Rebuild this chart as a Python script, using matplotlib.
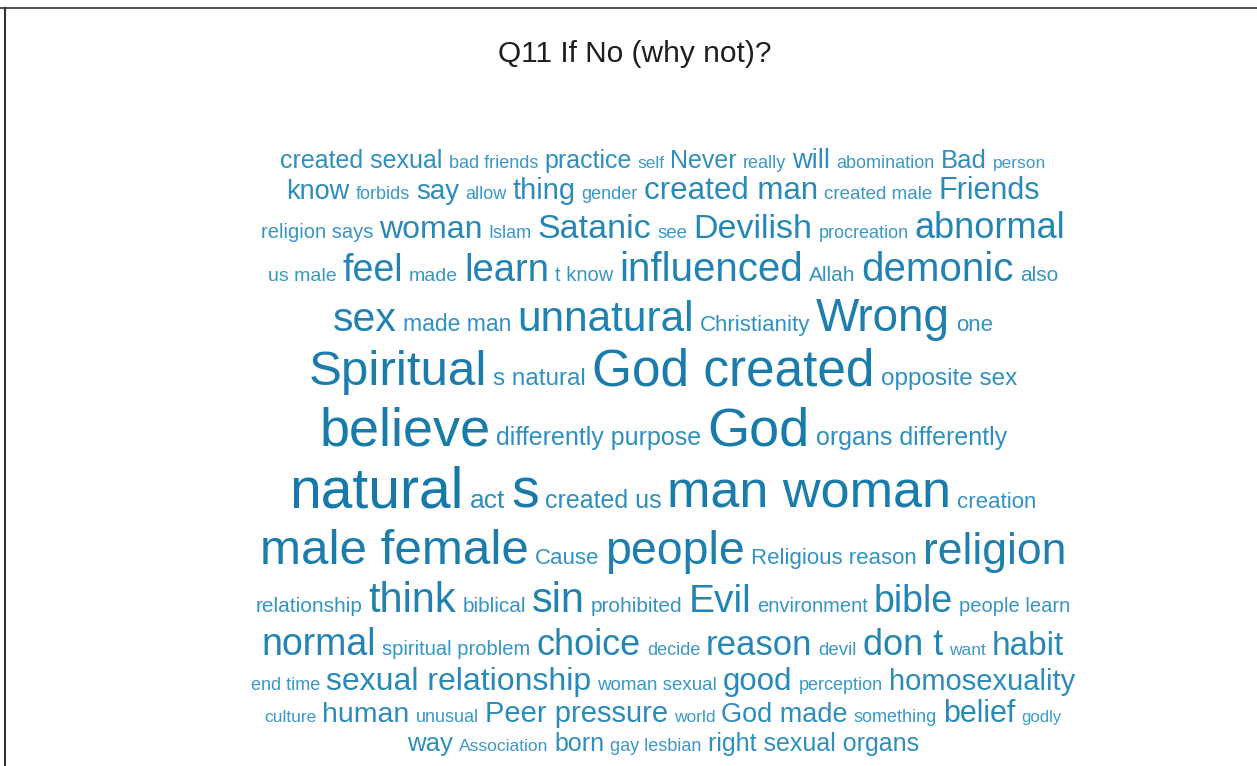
import matplotlib
matplotlib.use("Agg")
import matplotlib.pyplot as plt
import matplotlib.colors as mcolors
from matplotlib.lines import Line2D
import numpy as np

title = "Q11 If No (why not)?"

words = [
    # row 0
    "created sexual", "bad friends", "practice", "self", "Never", "really", "will", "abomination", "Bad", "person",
    # row 1
    "know", "forbids", "say", "allow", "thing", "gender", "created man", "created male", "Friends",
    # row 2
    "religion says", "woman", "Islam", "Satanic", "see", "Devilish", "procreation", "abnormal",
    # row 3
    "us male", "feel", "made", "learn", "t know", "influenced", "Allah", "demonic", "also",
    # row 4
    "sex", "made man", "unnatural", "Christianity", "Wrong", "one",
    # row 5
    "Spiritual", "s natural", "God created", "opposite sex",
    # row 6
    "believe", "differently purpose", "God", "organs differently",
    # row 7
    "natural", "act", "s", "created us", "man woman", "creation",
    # row 8
    "male female", "Cause", "people", "Religious reason", "religion",
    # row 9
    "relationship", "think", "biblical", "sin", "prohibited", "Evil", "environment", "bible", "people learn",
    # row 10
    "normal", "spiritual problem", "choice", "decide", "reason", "devil", "don t", "want", "habit",
    # row 11
    "end time", "sexual relationship", "woman sexual", "good", "perception", "homosexuality",
    # row 12
    "culture", "human", "unusual", "Peer pressure", "world", "God made", "something", "belief", "godly",
    # row 13
    "way", "Association", "born", "gay lesbian", "right sexual organs",
]

counts = [
    22, 12, 22, 11, 22, 12, 25, 12, 23, 11,
    25, 12, 26, 12, 28, 12, 31, 13, 30,
    15, 32, 12, 35, 13, 35, 12, 38,
    14, 40, 14, 41, 15, 44, 16, 44, 16,
    45, 19, 47, 18, 52, 18,
    57, 21, 60, 21,
    64, 22, 64, 22,
    68, 24, 66, 22, 61, 18,
    57, 18, 53, 18, 50,
    16, 46, 16, 46, 16, 42, 15, 40, 15,
    40, 15, 38, 12, 36, 13, 38, 11, 34,
    12, 32, 13, 31, 12, 28,
    11, 27, 12, 28, 11, 25, 12, 30, 10,
    23, 11, 22, 12, 22,
]

rows = (
    [0] * 10 + [1] * 9 + [2] * 8 + [3] * 9 + [4] * 6 + [5] * 4 + [6] * 4
    + [7] * 6 + [8] * 5 + [9] * 9 + [10] * 9 + [11] * 6 + [12] * 9 + [13] * 5
)

# ---- layout / style ----
W, H, DPI = 1257, 766, 100
FONT = "Liberation Sans"
ROW_BASELINES = [168, 199, 238, 281, 331, 385, 445, 508, 564, 612, 655, 690, 722, 751]
CENTER_X = 663
GAP = 6
LIGHT = np.array(mcolors.to_rgb("#3e9dcb"))
DARK = np.array(mcolors.to_rgb("#1779a9"))


def font_size(c):
    return 7 + 0.5 * c


cmin, cmax = min(counts), max(counts)


def word_color(c):
    t = (c - cmin) / (cmax - cmin)
    t = t ** 0.6
    return tuple(LIGHT * (1 - t) + DARK * t)


fig = plt.figure(figsize=(W / DPI, H / DPI), dpi=DPI)
fig.patch.set_facecolor("white")
ax = fig.add_axes([0, 0, 1, 1])
ax.set_xlim(0, W)
ax.set_ylim(H, 0)
ax.axis("off")

fig.canvas.draw()
renderer = fig.canvas.get_renderer()

for r, base in enumerate(ROW_BASELINES):
    idx = [i for i in range(len(words)) if rows[i] == r]
    texts = []
    for i in idx:
        t = ax.text(0, base, words[i], fontsize=font_size(counts[i]), family=FONT,
                    color=word_color(counts[i]), ha="left", va="baseline")
        texts.append(t)
    widths = [t.get_window_extent(renderer).width for t in texts]
    total = sum(widths) + GAP * (len(widths) - 1)
    x = CENTER_X - total / 2
    for t, w in zip(texts, widths):
        t.set_x(x)
        x += w + GAP

ax.text(635, 62, title, fontsize=21.5, family=FONT, color="#1e1e1e", ha="center", va="baseline")

# frame lines (top and left)
fig.add_artist(Line2D([0, 1], [1 - 7.5 / H, 1 - 7.5 / H], transform=fig.transFigure,
                      color="#555555", linewidth=1.5))
fig.add_artist(Line2D([4.5 / W, 4.5 / W], [0, 1 - 7.5 / H], transform=fig.transFigure,
                      color="#333333", linewidth=1.5))

fig.savefig("out.png", dpi=DPI, facecolor="white")
